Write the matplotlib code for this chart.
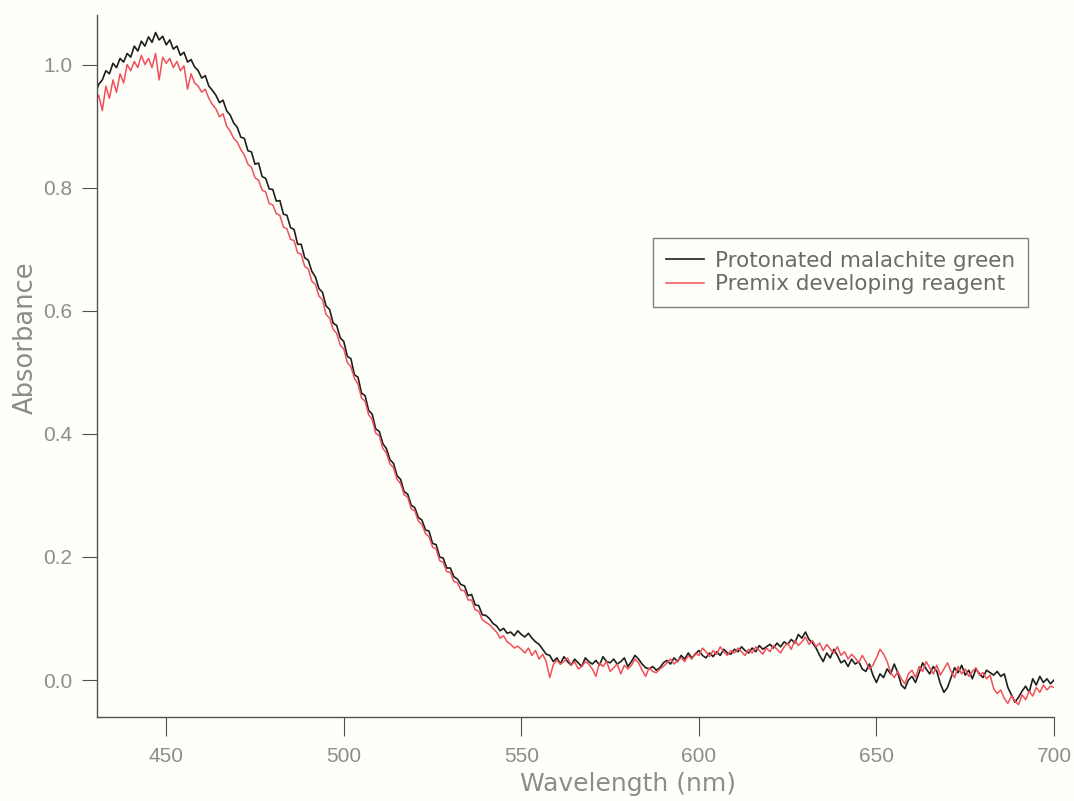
import matplotlib
matplotlib.use('Agg')
import matplotlib.pyplot as plt
import numpy as np

plt.rcParams['font.family'] = ['DejaVu Sans']

# wavelength grid, 1 nm steps
wavelength = np.arange(430, 701)

# protonated malachite green
protonated = [
    0.952, 0.968, 0.975, 0.990, 0.985, 1.002, 0.995, 1.010, 1.004, 1.018,
    1.012, 1.030, 1.022, 1.038, 1.030, 1.045, 1.036, 1.052, 1.040, 1.046,
    1.032, 1.040, 1.025, 1.030, 1.015, 1.020, 1.004, 1.008, 0.996, 0.990,
    0.978, 0.982, 0.965, 0.958, 0.950, 0.938, 0.942, 0.925, 0.918, 0.905,
    0.898, 0.882, 0.880, 0.860, 0.858, 0.838, 0.840, 0.818, 0.815, 0.798,
    0.797, 0.778, 0.779, 0.757, 0.755, 0.735, 0.732, 0.708, 0.708, 0.686,
    0.682, 0.664, 0.655, 0.636, 0.630, 0.608, 0.602, 0.580, 0.576, 0.556,
    0.550, 0.526, 0.522, 0.496, 0.492, 0.466, 0.462, 0.438, 0.432, 0.408,
    0.404, 0.384, 0.376, 0.358, 0.352, 0.332, 0.326, 0.306, 0.302, 0.284,
    0.280, 0.264, 0.260, 0.244, 0.242, 0.222, 0.220, 0.200, 0.198, 0.182,
    0.182, 0.168, 0.164, 0.155, 0.153, 0.137, 0.139, 0.122, 0.121, 0.106,
    0.105, 0.100, 0.092, 0.088, 0.080, 0.084, 0.076, 0.078, 0.072, 0.080,
    0.074, 0.070, 0.076, 0.068, 0.062, 0.058, 0.050, 0.042, 0.040, 0.030,
    0.036, 0.026, 0.038, 0.030, 0.024, 0.034, 0.028, 0.022, 0.036, 0.030,
    0.026, 0.032, 0.024, 0.038, 0.030, 0.028, 0.034, 0.026, 0.030, 0.036,
    0.022, 0.030, 0.040, 0.034, 0.026, 0.020, 0.018, 0.022, 0.016, 0.020,
    0.028, 0.032, 0.026, 0.036, 0.030, 0.040, 0.034, 0.044, 0.036, 0.042,
    0.048, 0.040, 0.036, 0.044, 0.038, 0.046, 0.040, 0.050, 0.044, 0.042,
    0.050, 0.046, 0.054, 0.048, 0.044, 0.052, 0.046, 0.056, 0.050, 0.054,
    0.058, 0.052, 0.060, 0.054, 0.062, 0.058, 0.066, 0.060, 0.074, 0.068,
    0.078, 0.066, 0.060, 0.052, 0.040, 0.030, 0.044, 0.036, 0.050, 0.040,
    0.028, 0.032, 0.022, 0.034, 0.026, 0.030, 0.018, 0.014, 0.026, 0.008,
    -0.004, 0.010, 0.004, 0.018, 0.010, 0.026, 0.012, -0.008, -0.014, 0.000,
    0.006, -0.004, 0.012, 0.028, 0.018, 0.010, 0.022, 0.014, -0.006, -0.020,
    -0.012, 0.004, 0.020, 0.012, 0.024, 0.008, 0.016, 0.002, 0.018, 0.010,
    0.004, 0.016, 0.012, 0.008, 0.014, 0.006, 0.010, -0.012, -0.024, -0.036,
    -0.028, -0.018, -0.010, -0.020, 0.002, -0.008, 0.006, -0.004, 0.002, -0.006,
    0.000,
]

# premix developing reagent
premix = [
    0.940, 0.950, 0.925, 0.965, 0.945, 0.975, 0.955, 0.985, 0.970, 1.000,
    0.990, 1.005, 0.995, 1.015, 1.000, 1.010, 0.995, 1.018, 0.975, 1.012,
    1.002, 1.010, 0.995, 1.005, 0.990, 0.998, 0.960, 0.985, 0.970, 0.965,
    0.955, 0.960, 0.945, 0.935, 0.928, 0.915, 0.920, 0.900, 0.892, 0.880,
    0.874, 0.862, 0.853, 0.838, 0.833, 0.816, 0.812, 0.796, 0.793, 0.774,
    0.772, 0.758, 0.755, 0.736, 0.733, 0.716, 0.714, 0.694, 0.692, 0.672,
    0.668, 0.648, 0.643, 0.624, 0.618, 0.594, 0.588, 0.570, 0.563, 0.544,
    0.538, 0.516, 0.509, 0.490, 0.481, 0.458, 0.453, 0.431, 0.423, 0.401,
    0.397, 0.376, 0.369, 0.351, 0.345, 0.326, 0.319, 0.301, 0.297, 0.278,
    0.275, 0.258, 0.253, 0.238, 0.233, 0.216, 0.213, 0.194, 0.191, 0.176,
    0.175, 0.160, 0.158, 0.146, 0.145, 0.130, 0.130, 0.114, 0.112, 0.098,
    0.094, 0.090, 0.084, 0.078, 0.068, 0.072, 0.062, 0.058, 0.052, 0.055,
    0.050, 0.044, 0.052, 0.040, 0.048, 0.034, 0.042, 0.030, 0.004, 0.025,
    0.032, 0.026, 0.030, 0.036, 0.024, 0.030, 0.018, 0.022, 0.030, 0.026,
    0.018, 0.006, 0.028, 0.022, 0.030, 0.014, 0.020, 0.026, 0.010, 0.024,
    0.018, 0.024, 0.034, 0.028, 0.016, 0.006, 0.020, 0.014, 0.012, 0.018,
    0.022, 0.028, 0.034, 0.026, 0.032, 0.036, 0.030, 0.040, 0.034, 0.044,
    0.040, 0.052, 0.046, 0.038, 0.048, 0.042, 0.054, 0.046, 0.040, 0.048,
    0.044, 0.052, 0.046, 0.040, 0.050, 0.044, 0.054, 0.048, 0.042, 0.052,
    0.046, 0.056, 0.050, 0.044, 0.054, 0.060, 0.050, 0.064, 0.056, 0.062,
    0.070, 0.058, 0.064, 0.054, 0.060, 0.048, 0.058, 0.050, 0.044, 0.054,
    0.040, 0.046, 0.034, 0.042, 0.036, 0.028, 0.040, 0.030, 0.018, 0.024,
    0.036, 0.050, 0.042, 0.030, 0.012, 0.004, 0.014, 0.002, -0.006, 0.010,
    0.016, 0.004, 0.022, 0.014, 0.030, 0.020, 0.010, 0.024, 0.008, 0.018,
    0.028, 0.014, 0.004, 0.022, 0.010, 0.018, 0.006, 0.014, 0.020, 0.008,
    0.012, 0.002, 0.008, -0.014, -0.022, -0.016, -0.030, -0.038, -0.026, -0.034,
    -0.040, -0.024, -0.032, -0.018, -0.026, -0.012, -0.020, -0.008, -0.016, -0.010,
    -0.012,
]

x_ticks = [450, 500, 550, 600, 650, 700]
y_ticks = [0.0, 0.2, 0.4, 0.6, 0.8, 1.0]

bg = '#fffffa'
label_grey = '#8c8c8c'
tick_font = ['Liberation Sans', 'DejaVu Sans']

fig = plt.figure(figsize=(10.74, 8.01), dpi=100, facecolor=bg)
ax = fig.add_axes([0.0903, 0.1049, 0.8911, 0.876])
ax.set_facecolor(bg)

ax.plot(wavelength, protonated, color='#1e1e1e', lw=1.2, label='Protonated malachite green')
ax.plot(wavelength, premix, color='#f0505a', lw=1.1, label='Premix developing reagent')

ax.set_xlim(430.5, 700)
ax.set_ylim(-0.06, 1.08)
ax.set_xticks(x_ticks)
ax.set_yticks(y_ticks)
ax.set_yticklabels(['%.1f' % v for v in y_ticks])

for side in ['top', 'right']:
    ax.spines[side].set_visible(False)
for side in ['left', 'bottom']:
    ax.spines[side].set_color('#505050')
    ax.spines[side].set_linewidth(1.0)

ax.tick_params(axis='x', direction='out', length=13.7, width=0.8, color='#505050',
               labelsize=15, labelcolor=label_grey, pad=8)
ax.tick_params(axis='y', direction='out', length=10.8, width=0.8, color='#505050',
               labelsize=15, labelcolor=label_grey, pad=7)
for lab in ax.get_xticklabels() + ax.get_yticklabels():
    lab.set_family(tick_font)

ax.set_xlabel('Wavelength (nm)', fontsize=18, color=label_grey)
ax.set_ylabel('Absorbance', fontsize=18.5, color=label_grey)
ax.xaxis.set_label_coords(0.555, -0.079)
ax.yaxis.set_label_coords(-0.061, 0.54)

leg = ax.legend(loc='upper left', bbox_to_anchor=(653 / 1074, 1 - 238 / 801),
                bbox_transform=fig.transFigure, borderaxespad=0,
                frameon=True, fancybox=False, fontsize=15.5,
                handlelength=1.75, handletextpad=0.55,
                borderpad=0.6, labelspacing=0.16)
leg.get_frame().set_edgecolor('#606060')
leg.get_frame().set_facecolor(bg)
leg.get_frame().set_linewidth(1.0)
for t in leg.get_texts():
    t.set_color('#6a6a6a')

fig.savefig('out.png', dpi=100, facecolor=bg)
